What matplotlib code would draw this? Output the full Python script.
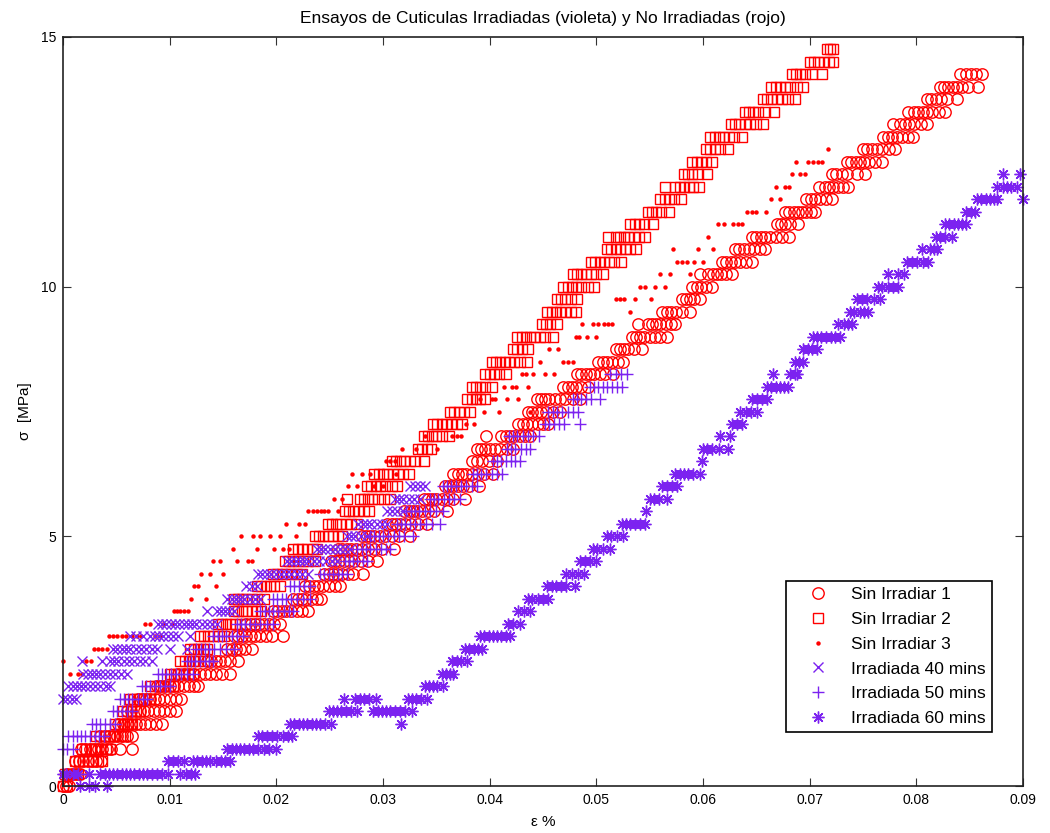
import matplotlib
matplotlib.use("Agg")
import matplotlib.pyplot as plt

plt.rcParams['font.family'] = ['Liberation Sans', 'DejaVu Sans']

# Each series: (stress level in MPa, strains recorded at that level)
sin_irradiar_1 = [
    (0.00, [0.0, 0.0003, 0.0006]),
    (0.25, [0.0004, 0.0008, 0.0012, 0.0016]),
    (0.50, [0.0011, 0.0015, 0.0019, 0.0023, 0.0027, 0.0031, 0.0036]),
    (0.75, [0.0017, 0.0021, 0.0025, 0.0029, 0.0033, 0.0037, 0.0041, 0.0045, 0.0053, 0.0065]),
    (1.00, [0.0035, 0.0039, 0.0043, 0.0047, 0.0051, 0.0055, 0.0060, 0.0065]),
    (1.25, [0.0052, 0.0056, 0.0060, 0.0064, 0.0068, 0.0072, 0.0077, 0.0082, 0.0087, 0.0093]),
    (1.50, [0.0060, 0.0064, 0.0068, 0.0072, 0.0076, 0.0080, 0.0085, 0.0090, 0.0095, 0.0100, 0.0106]),
    (1.75, [0.0070, 0.0074, 0.0078, 0.0082, 0.0086, 0.0090, 0.0095, 0.0100, 0.0106, 0.0111]),
    (2.00, [0.0088, 0.0092, 0.0096, 0.0100, 0.0104, 0.0108, 0.0113, 0.0118, 0.0123, 0.0127]),
    (2.25, [0.0108, 0.0113, 0.0118, 0.0123, 0.0128, 0.0133, 0.0138, 0.0143, 0.0149, 0.0157]),
    (2.50, [0.0135, 0.0139, 0.0143, 0.0147, 0.0152, 0.0157, 0.0164]),
    (2.75, [0.0154, 0.0158, 0.0162, 0.0166, 0.0171, 0.0177]),
    (3.00, [0.0160, 0.0164, 0.0168, 0.0172, 0.0176, 0.0180, 0.0185, 0.0190, 0.0196, 0.0206]),
    (3.25, [0.0172, 0.0176, 0.0180, 0.0184, 0.0188, 0.0193, 0.0198, 0.0203]),
    (3.50, [0.0197, 0.0201, 0.0205, 0.0209, 0.0214, 0.0219, 0.0224, 0.0230]),
    (3.75, [0.0216, 0.0220, 0.0224, 0.0228, 0.0233, 0.0238, 0.0242]),
    (4.00, [0.0227, 0.0231, 0.0235, 0.0239, 0.0244, 0.0249, 0.0255, 0.0260]),
    (4.25, [0.0245, 0.0249, 0.0253, 0.0257, 0.0262, 0.0267, 0.0272, 0.0281]),
    (4.50, [0.0251, 0.0255, 0.0259, 0.0263, 0.0268, 0.0273, 0.0279, 0.0286, 0.0294]),
    (4.75, [0.0258, 0.0262, 0.0266, 0.0270, 0.0275, 0.0280, 0.0286, 0.0292, 0.0299, 0.0310]),
    (5.00, [0.0280, 0.0284, 0.0288, 0.0292, 0.0297, 0.0302, 0.0308, 0.0315, 0.0325]),
    (5.25, [0.0304, 0.0308, 0.0312, 0.0316, 0.0321, 0.0326, 0.0333, 0.0341]),
    (5.50, [0.0320, 0.0324, 0.0328, 0.0332, 0.0337, 0.0342, 0.0348, 0.0360]),
    (5.75, [0.0338, 0.0342, 0.0346, 0.0350, 0.0355, 0.0360, 0.0366, 0.0377]),
    (6.00, [0.0358, 0.0362, 0.0366, 0.0370, 0.0375, 0.0381, 0.0390]),
    (6.25, [0.0366, 0.0370, 0.0374, 0.0378, 0.0383, 0.0389, 0.0395, 0.0403]),
    (6.50, [0.0383, 0.0388, 0.0393, 0.0399, 0.0407]),
    (6.75, [0.0388, 0.0392, 0.0396, 0.0400, 0.0405, 0.0410, 0.0416, 0.0422]),
    (7.00, [0.0397, 0.0411, 0.0415, 0.0419, 0.0423, 0.0428, 0.0433, 0.0438]),
    (7.25, [0.0427, 0.0431, 0.0435, 0.0440, 0.0445, 0.0450, 0.0455]),
    (7.50, [0.0436, 0.0440, 0.0444, 0.0448, 0.0453, 0.0459, 0.0466]),
    (7.75, [0.0444, 0.0448, 0.0452, 0.0456, 0.0461, 0.0466, 0.0471, 0.0478, 0.0485]),
    (8.00, [0.0469, 0.0473, 0.0477, 0.0481, 0.0486, 0.0492]),
    (8.25, [0.0482, 0.0486, 0.0490, 0.0494, 0.0498, 0.0503, 0.0508, 0.0516]),
    (8.50, [0.0502, 0.0506, 0.0510, 0.0515, 0.0520, 0.0525]),
    (8.75, [0.0518, 0.0522, 0.0526, 0.0530, 0.0535, 0.0543]),
    (9.00, [0.0533, 0.0537, 0.0541, 0.0545, 0.0550, 0.0555, 0.0560, 0.0566]),
    (9.25, [0.0539, 0.0548, 0.0552, 0.0556, 0.0560, 0.0565, 0.0570, 0.0574]),
    (9.50, [0.0562, 0.0566, 0.0570, 0.0575, 0.0580, 0.0588]),
    (9.75, [0.0580, 0.0584, 0.0588, 0.0592, 0.0597]),
    (10.00, [0.0590, 0.0594, 0.0598, 0.0603, 0.0608]),
    (10.25, [0.0597, 0.0605, 0.0609, 0.0613, 0.0617, 0.0622, 0.0627]),
    (10.50, [0.0618, 0.0622, 0.0626, 0.0630, 0.0635, 0.0640, 0.0646]),
    (10.75, [0.0630, 0.0634, 0.0638, 0.0643, 0.0648, 0.0653, 0.0658]),
    (11.00, [0.0646, 0.0650, 0.0654, 0.0658, 0.0663, 0.0668, 0.0674, 0.0681]),
    (11.25, [0.0669, 0.0673, 0.0677, 0.0682, 0.0689]),
    (11.50, [0.0677, 0.0681, 0.0685, 0.0689, 0.0693, 0.0697, 0.0701, 0.0705]),
    (11.75, [0.0697, 0.0701, 0.0705, 0.0710, 0.0715, 0.0721]),
    (12.00, [0.0709, 0.0714, 0.0718, 0.0722, 0.0727, 0.0731, 0.0736]),
    (12.25, [0.0721, 0.0725, 0.0730, 0.0735, 0.0744, 0.0752]),
    (12.50, [0.0735, 0.0739, 0.0743, 0.0747, 0.0751, 0.0756, 0.0761, 0.0768]),
    (12.75, [0.0750, 0.0754, 0.0758, 0.0763, 0.0768, 0.0774, 0.0780]),
    (13.00, [0.0769, 0.0773, 0.0777, 0.0782, 0.0787, 0.0792, 0.0797]),
    (13.25, [0.0778, 0.0785, 0.0789, 0.0793, 0.0798, 0.0804, 0.0810]),
    (13.50, [0.0792, 0.0798, 0.0802, 0.0806, 0.0810, 0.0815, 0.0821, 0.0827]),
    (13.75, [0.0810, 0.0814, 0.0818, 0.0823, 0.0829, 0.0838]),
    (14.00, [0.0822, 0.0826, 0.0830, 0.0834, 0.0838, 0.0843, 0.0848, 0.0858]),
    (14.25, [0.0841, 0.0847, 0.0851, 0.0856, 0.0862]),
]

sin_irradiar_2 = [
    (0.00, [0.0, 0.0004]),
    (0.25, [0.0002, 0.0006, 0.0010, 0.0014]),
    (0.50, [0.0011, 0.0015, 0.0019, 0.0023, 0.0028, 0.0033, 0.0037]),
    (0.75, [0.0018, 0.0022, 0.0026, 0.0030, 0.0035, 0.0040, 0.0044]),
    (1.00, [0.0031, 0.0035, 0.0039, 0.0043, 0.0048, 0.0053, 0.0058]),
    (1.25, [0.0049, 0.0053, 0.0057, 0.0061, 0.0065]),
    (1.50, [0.0056, 0.0060, 0.0064, 0.0068, 0.0072]),
    (1.75, [0.0063, 0.0067, 0.0071, 0.0076, 0.0082]),
    (2.00, [0.0082, 0.0086, 0.0090, 0.0094, 0.0098, 0.0103]),
    (2.25, [0.0100, 0.0104, 0.0108, 0.0113, 0.0118, 0.0122]),
    (2.50, [0.0110, 0.0114, 0.0118, 0.0122, 0.0127, 0.0132]),
    (2.75, [0.0119, 0.0123, 0.0127, 0.0131, 0.0135]),
    (3.00, [0.0128, 0.0132, 0.0136, 0.0141, 0.0146, 0.0151]),
    (3.25, [0.0145, 0.0149, 0.0153, 0.0157, 0.0161, 0.0166, 0.0171]),
    (3.50, [0.0160, 0.0164, 0.0168, 0.0172, 0.0177, 0.0182, 0.0186]),
    (3.75, [0.0160, 0.0164, 0.0168, 0.0172, 0.0177, 0.0182, 0.0188]),
    (4.00, [0.0182, 0.0186, 0.0190, 0.0194, 0.0198, 0.0203]),
    (4.25, [0.0197, 0.0201, 0.0205, 0.0209, 0.0214, 0.0219, 0.0224]),
    (4.50, [0.0208, 0.0212, 0.0216, 0.0220, 0.0225, 0.0230, 0.0236]),
    (4.75, [0.0216, 0.0220, 0.0224, 0.0229, 0.0234, 0.0238]),
    (5.00, [0.0236, 0.0240, 0.0244, 0.0248, 0.0253, 0.0258, 0.0262]),
    (5.25, [0.0248, 0.0252, 0.0256, 0.0260, 0.0265, 0.0270, 0.0276]),
    (5.50, [0.0264, 0.0268, 0.0272, 0.0277, 0.0282, 0.0287]),
    (5.75, [0.0266, 0.0278, 0.0282, 0.0286, 0.0290, 0.0295, 0.0301, 0.0307]),
    (6.00, [0.0285, 0.0289, 0.0293, 0.0297, 0.0302, 0.0308, 0.0313]),
    (6.25, [0.0292, 0.0296, 0.0300, 0.0304, 0.0309, 0.0314, 0.0319, 0.0324]),
    (6.50, [0.0308, 0.0312, 0.0316, 0.0320, 0.0325, 0.0330, 0.0338]),
    (6.75, [0.0333, 0.0337, 0.0341, 0.0345]),
    (7.00, [0.0338, 0.0342, 0.0346, 0.0350, 0.0355, 0.0362]),
    (7.25, [0.0347, 0.0351, 0.0355, 0.0359, 0.0364, 0.0369, 0.0374]),
    (7.50, [0.0363, 0.0367, 0.0371, 0.0376, 0.0382]),
    (7.75, [0.0379, 0.0383, 0.0387, 0.0391, 0.0396]),
    (8.00, [0.0383, 0.0387, 0.0391, 0.0396, 0.0402]),
    (8.25, [0.0396, 0.0400, 0.0404, 0.0409, 0.0415]),
    (8.50, [0.0402, 0.0406, 0.0410, 0.0414, 0.0418, 0.0423, 0.0428, 0.0435]),
    (8.75, [0.0422, 0.0426, 0.0430, 0.0436]),
    (9.00, [0.0426, 0.0430, 0.0434, 0.0438, 0.0442, 0.0447, 0.0452, 0.0459]),
    (9.25, [0.0449, 0.0453, 0.0457, 0.0463]),
    (9.50, [0.0454, 0.0458, 0.0462, 0.0466, 0.0471, 0.0476, 0.0481]),
    (9.75, [0.0463, 0.0467, 0.0471, 0.0476, 0.0482]),
    (10.00, [0.0469, 0.0473, 0.0477, 0.0481, 0.0486, 0.0492, 0.0498]),
    (10.25, [0.0478, 0.0482, 0.0486, 0.0490, 0.0495, 0.0500, 0.0506]),
    (10.50, [0.0495, 0.0499, 0.0503, 0.0507, 0.0512, 0.0517, 0.0523]),
    (10.75, [0.0510, 0.0514, 0.0518, 0.0522, 0.0527, 0.0532, 0.0537]),
    (11.00, [0.0511, 0.0518, 0.0522, 0.0526, 0.0530, 0.0535, 0.0540, 0.0546]),
    (11.25, [0.0532, 0.0536, 0.0540, 0.0545, 0.0553]),
    (11.50, [0.0548, 0.0552, 0.0556, 0.0561, 0.0568]),
    (11.75, [0.0560, 0.0564, 0.0568, 0.0573, 0.0579]),
    (12.00, [0.0564, 0.0574, 0.0578, 0.0582, 0.0587, 0.0591, 0.0596]),
    (12.25, [0.0582, 0.0586, 0.0590, 0.0595, 0.0604]),
    (12.50, [0.0590, 0.0594, 0.0598, 0.0603, 0.0608]),
    (12.75, [0.0603, 0.0607, 0.0611, 0.0616, 0.0623]),
    (13.00, [0.0607, 0.0611, 0.0615, 0.0619, 0.0624, 0.0629, 0.0637]),
    (13.25, [0.0626, 0.0630, 0.0634, 0.0639, 0.0644, 0.0650, 0.0656]),
    (13.50, [0.0639, 0.0643, 0.0647, 0.0652, 0.0658, 0.0667]),
    (13.75, [0.0656, 0.0660, 0.0664, 0.0669, 0.0674, 0.0680, 0.0686]),
    (14.00, [0.0664, 0.0668, 0.0672, 0.0677, 0.0682, 0.0688, 0.0694]),
    (14.25, [0.0683, 0.0687, 0.0691, 0.0696, 0.0702, 0.0712]),
    (14.50, [0.0700, 0.0704, 0.0708, 0.0713, 0.0718, 0.0722]),
    (14.75, [0.0716, 0.0719, 0.0722]),
]

sin_irradiar_3 = [
    (2.25, [0.0007, 0.0014, 0.0018]),
    (2.50, [0.0, 0.0022, 0.0026]),
    (2.75, [0.0029, 0.0033, 0.0037, 0.0041]),
    (3.00, [0.0043, 0.0047, 0.0051, 0.0055, 0.0059, 0.0065, 0.0069, 0.0073, 0.0086, 0.0091]),
    (3.25, [0.0077, 0.0082, 0.0094, 0.0102]),
    (3.50, [0.0104, 0.0107, 0.0110, 0.0113, 0.0117]),
    (3.75, [0.0120, 0.0134]),
    (4.00, [0.0123, 0.0127, 0.0143]),
    (4.25, [0.0129, 0.0138, 0.0150]),
    (4.50, [0.0141, 0.0147, 0.0163, 0.0173, 0.0177]),
    (4.75, [0.0159, 0.0182, 0.0198, 0.0206, 0.0212]),
    (5.00, [0.0167, 0.0178, 0.0185, 0.0194, 0.0203, 0.0218]),
    (5.25, [0.0209, 0.0221, 0.0227]),
    (5.50, [0.0230, 0.0234, 0.0238, 0.0242, 0.0245, 0.0248, 0.0258]),
    (5.75, [0.0254, 0.0262]),
    (6.00, [0.0267, 0.0276, 0.0292, 0.0300]),
    (6.25, [0.0271, 0.0280, 0.0288, 0.0312]),
    (6.50, [0.0303, 0.0307, 0.0311]),
    (6.75, [0.0318, 0.0331, 0.0351]),
    (7.00, [0.0339, 0.0365, 0.0369, 0.0373]),
    (7.25, [0.0378, 0.0385]),
    (7.50, [0.0395, 0.0409, 0.0438]),
    (7.75, [0.0391, 0.0402, 0.0405, 0.0416, 0.0427]),
    (8.00, [0.0413, 0.0421, 0.0425, 0.0436]),
    (8.25, [0.0430, 0.0434, 0.0441, 0.0452, 0.0460]),
    (8.50, [0.0447, 0.0469, 0.0473, 0.0478]),
    (8.75, [0.0456, 0.0464]),
    (9.00, [0.0481, 0.0484, 0.0491, 0.0500]),
    (9.25, [0.0487, 0.0497, 0.0502, 0.0507, 0.0511, 0.0515]),
    (9.50, [0.0532]),
    (9.75, [0.0518, 0.0522, 0.0526, 0.0536, 0.0551]),
    (10.00, [0.0541, 0.0546, 0.0555, 0.0564]),
    (10.25, [0.0560, 0.0569, 0.0588]),
    (10.50, [0.0576, 0.0580, 0.0585, 0.0592, 0.0600]),
    (10.75, [0.0572, 0.0595, 0.0609]),
    (11.00, [0.0605]),
    (11.25, [0.0614, 0.0620, 0.0628, 0.0633, 0.0637]),
    (11.50, [0.0641, 0.0646, 0.0650, 0.0659]),
    (11.75, [0.0664, 0.0672]),
    (12.00, [0.0668, 0.0677, 0.0681]),
    (12.25, [0.0683, 0.0691, 0.0696]),
    (12.50, [0.0687, 0.0698, 0.0703, 0.0708, 0.0712]),
    (12.75, [0.0717]),
]

irradiada_40 = [
    (1.75, [0.0, 0.0004, 0.0008, 0.0012]),
    (2.00, [0.0005, 0.0009, 0.0013, 0.0017, 0.0021, 0.0025, 0.0030, 0.0035, 0.0040, 0.0044]),
    (2.25, [0.0019, 0.0023, 0.0027, 0.0031, 0.0035, 0.0039, 0.0044, 0.0049, 0.0054, 0.0060]),
    (2.50, [0.0018, 0.0037, 0.0044, 0.0048, 0.0052, 0.0057, 0.0062, 0.0067, 0.0072, 0.0077, 0.0083]),
    (2.75, [0.0047, 0.0051, 0.0055, 0.0059, 0.0063, 0.0068, 0.0073, 0.0078, 0.0083, 0.0088, 0.0100, 0.0116]),
    (3.00, [0.0063, 0.0068, 0.0075, 0.0082, 0.0086, 0.0090, 0.0094, 0.0098, 0.0103, 0.0108, 0.0119]),
    (3.25, [0.0089, 0.0093, 0.0097, 0.0101, 0.0105, 0.0109, 0.0113, 0.0117, 0.0121, 0.0125, 0.0130,
            0.0135, 0.0140, 0.0144]),
    (3.50, [0.0135, 0.0144, 0.0148, 0.0152, 0.0156, 0.0160]),
    (3.75, [0.0154, 0.0158, 0.0162, 0.0166, 0.0170, 0.0175, 0.0180, 0.0185]),
    (4.00, [0.0172, 0.0177, 0.0182]),
    (4.25, [0.0183, 0.0187, 0.0191, 0.0195, 0.0200, 0.0204, 0.0209, 0.0214, 0.0219, 0.0224, 0.0230]),
    (4.50, [0.0210, 0.0214, 0.0218, 0.0222, 0.0226, 0.0230, 0.0235, 0.0240, 0.0247, 0.0252, 0.0257]),
    (4.75, [0.0238, 0.0242, 0.0246, 0.0250, 0.0255, 0.0260, 0.0264, 0.0269]),
    (5.00, [0.0266, 0.0270, 0.0274, 0.0279, 0.0285]),
    (5.25, [0.0277, 0.0281, 0.0285, 0.0289, 0.0294, 0.0299, 0.0304]),
    (5.50, [0.0304, 0.0308, 0.0313, 0.0319]),
    (5.75, [0.0311, 0.0315, 0.0319, 0.0324, 0.0329, 0.0335]),
    (6.00, [0.0325, 0.0330, 0.0335, 0.0339]),
]

irradiada_50 = [
    (0.75, [0.0, 0.0004, 0.0009]),
    (1.00, [0.0005, 0.0009, 0.0013, 0.0017, 0.0021, 0.0025, 0.0030, 0.0034, 0.0038]),
    (1.25, [0.0027, 0.0031, 0.0035, 0.0039, 0.0044, 0.0049]),
    (1.50, [0.0047, 0.0051, 0.0055, 0.0060, 0.0065]),
    (1.75, [0.0053, 0.0057, 0.0061, 0.0065, 0.0070, 0.0075, 0.0079]),
    (2.00, [0.0074, 0.0078, 0.0082, 0.0086, 0.0091, 0.0096, 0.0100]),
    (2.25, [0.0089, 0.0093, 0.0097, 0.0101, 0.0106, 0.0111, 0.0116, 0.0122]),
    (2.50, [0.0116, 0.0120, 0.0124, 0.0128, 0.0133, 0.0137, 0.0141]),
    (2.75, [0.0125, 0.0129, 0.0133, 0.0137, 0.0142, 0.0147, 0.0153, 0.0160]),
    (3.00, [0.0141, 0.0145, 0.0149, 0.0153, 0.0158, 0.0163, 0.0169]),
    (3.25, [0.0163, 0.0167, 0.0171, 0.0175, 0.0180, 0.0185, 0.0191, 0.0197]),
    (3.50, [0.0185, 0.0189, 0.0193, 0.0197, 0.0202, 0.0207, 0.0212, 0.0216]),
    (3.75, [0.0197, 0.0201, 0.0205, 0.0209, 0.0214, 0.0219, 0.0225, 0.0232]),
    (4.00, [0.0213, 0.0217, 0.0221, 0.0226, 0.0232]),
    (4.25, [0.0241, 0.0245, 0.0249, 0.0253, 0.0258, 0.0262, 0.0266]),
    (4.50, [0.0264, 0.0268, 0.0272, 0.0276, 0.0281, 0.0285]),
    (4.75, [0.0276, 0.0280, 0.0284, 0.0288, 0.0293, 0.0298, 0.0303, 0.0307]),
    (5.00, [0.0288, 0.0292, 0.0296, 0.0300, 0.0305, 0.0310, 0.0315, 0.0320, 0.0328]),
    (5.25, [0.0313, 0.0317, 0.0321, 0.0325, 0.0330, 0.0335, 0.0340, 0.0346, 0.0353]),
    (5.50, [0.0322, 0.0326, 0.0330, 0.0334, 0.0339, 0.0344, 0.0350, 0.0356]),
    (5.75, [0.0344, 0.0348, 0.0352, 0.0357, 0.0362, 0.0367, 0.0372]),
    (6.00, [0.0356, 0.0360, 0.0364, 0.0368, 0.0373, 0.0378, 0.0383, 0.0388]),
    (6.25, [0.0384, 0.0388, 0.0392, 0.0397, 0.0402, 0.0407, 0.0412]),
    (6.50, [0.0403, 0.0407, 0.0411, 0.0415, 0.0420, 0.0424, 0.0428]),
    (6.75, [0.0416, 0.0420, 0.0424, 0.0429, 0.0434, 0.0438]),
    (7.00, [0.0418, 0.0422, 0.0426, 0.0431, 0.0436, 0.0441, 0.0446]),
    (7.25, [0.0452, 0.0456, 0.0460, 0.0465, 0.0470, 0.0485]),
    (7.50, [0.0455, 0.0459, 0.0463, 0.0468, 0.0473, 0.0478, 0.0483]),
    (7.75, [0.0478, 0.0482, 0.0486, 0.0490, 0.0495, 0.0503]),
    (8.00, [0.0494, 0.0498, 0.0502, 0.0506, 0.0510, 0.0515, 0.0519, 0.0524]),
    (8.25, [0.0513, 0.0518, 0.0523, 0.0529]),
]

irradiada_60 = [
    (0.00, [0.0016, 0.0024, 0.0030, 0.0041]),
    (0.25, [0.0, 0.0003, 0.0009, 0.0014, 0.0024, 0.0035, 0.0039, 0.0043, 0.0047, 0.0051, 0.0055,
            0.0059, 0.0063, 0.0067, 0.0071, 0.0075, 0.0079, 0.0083, 0.0088, 0.0093, 0.0098,
            0.0110, 0.0115, 0.0120, 0.0124]),
    (0.50, [0.0098, 0.0103, 0.0108, 0.0113, 0.0122, 0.0126, 0.0130, 0.0134, 0.0138, 0.0143,
            0.0148, 0.0152, 0.0157]),
    (0.75, [0.0154, 0.0158, 0.0162, 0.0166, 0.0170, 0.0174, 0.0178, 0.0183, 0.0188, 0.0193, 0.0200]),
    (1.00, [0.0183, 0.0187, 0.0191, 0.0196, 0.0201, 0.0206, 0.0211, 0.0215]),
    (1.25, [0.0213, 0.0217, 0.0221, 0.0225, 0.0229, 0.0233, 0.0237, 0.0241, 0.0246, 0.0251, 0.0317]),
    (1.50, [0.0249, 0.0253, 0.0257, 0.0261, 0.0265, 0.0270, 0.0276, 0.0291, 0.0295, 0.0299,
            0.0303, 0.0307, 0.0311, 0.0316, 0.0321, 0.0327]),
    (1.75, [0.0263, 0.0274, 0.0278, 0.0282, 0.0287, 0.0293, 0.0323, 0.0327, 0.0331, 0.0336, 0.0341]),
    (2.00, [0.0339, 0.0343, 0.0347, 0.0351, 0.0356]),
    (2.25, [0.0355, 0.0359, 0.0363, 0.0366]),
    (2.50, [0.0365, 0.0369, 0.0373, 0.0379]),
    (2.75, [0.0377, 0.0381, 0.0385, 0.0389, 0.0393]),
    (3.00, [0.0391, 0.0395, 0.0399, 0.0403, 0.0407, 0.0411, 0.0415, 0.0419]),
    (3.25, [0.0417, 0.0422, 0.0428]),
    (3.50, [0.0427, 0.0432, 0.0438]),
    (3.75, [0.0436, 0.0440, 0.0445, 0.0450, 0.0455]),
    (4.00, [0.0454, 0.0458, 0.0462, 0.0467, 0.0472, 0.0480]),
    (4.25, [0.0472, 0.0477, 0.0483, 0.0488]),
    (4.50, [0.0485, 0.0489, 0.0494, 0.0500]),
    (4.75, [0.0497, 0.0501, 0.0506, 0.0513]),
    (5.00, [0.0510, 0.0514, 0.0519, 0.0525]),
    (5.25, [0.0524, 0.0528, 0.0532, 0.0536, 0.0541, 0.0546]),
    (5.50, [0.0547]),
    (5.75, [0.0550, 0.0554, 0.0559, 0.0566]),
    (6.00, [0.0562, 0.0566, 0.0571, 0.0576]),
    (6.25, [0.0574, 0.0578, 0.0582, 0.0586, 0.0591, 0.0597]),
    (6.50, [0.0599]),
    (6.75, [0.0600, 0.0604, 0.0608, 0.0615, 0.0623]),
    (7.00, [0.0616, 0.0625]),
    (7.25, [0.0627, 0.0632, 0.0637]),
    (7.50, [0.0635, 0.0640, 0.0645, 0.0651]),
    (7.75, [0.0646, 0.0651, 0.0655, 0.0660]),
    (8.00, [0.0660, 0.0664, 0.0668, 0.0672, 0.0676, 0.0680]),
    (8.25, [0.0666, 0.0682, 0.0686, 0.0688]),
    (8.50, [0.0686, 0.0690, 0.0694]),
    (8.75, [0.0694, 0.0698, 0.0702, 0.0707]),
    (9.00, [0.0703, 0.0707, 0.0711, 0.0715, 0.0720, 0.0724, 0.0728]),
    (9.25, [0.0727, 0.0732, 0.0736, 0.0740]),
    (9.50, [0.0738, 0.0742, 0.0747, 0.0751, 0.0755]),
    (9.75, [0.0744, 0.0749, 0.0754, 0.0760, 0.0766]),
    (10.00, [0.0764, 0.0768, 0.0773, 0.0778, 0.0783]),
    (10.25, [0.0773, 0.0783, 0.0788]),
    (10.50, [0.0791, 0.0796, 0.0801, 0.0806, 0.0811]),
    (10.75, [0.0805, 0.0813, 0.0817, 0.0819]),
    (11.00, [0.0818, 0.0822, 0.0827, 0.0833]),
    (11.25, [0.0827, 0.0831, 0.0835, 0.0839, 0.0843, 0.0847]),
    (11.50, [0.0847, 0.0851, 0.0855]),
    (11.75, [0.0857, 0.0861, 0.0865, 0.0869, 0.0873, 0.0876, 0.0900]),
    (12.00, [0.0876, 0.0881, 0.0885, 0.0889, 0.0894]),
    (12.25, [0.0881, 0.0897]),
]

labels = ["Sin Irradiar 1", "Sin Irradiar 2", "Sin Irradiar 3",
          "Irradiada 40 mins", "Irradiada 50 mins", "Irradiada 60 mins"]
x_ticks = [0, 0.01, 0.02, 0.03, 0.04, 0.05, 0.06, 0.07, 0.08, 0.09]
x_tick_labels = ["0", "0.01", "0.02", "0.03", "0.04", "0.05", "0.06", "0.07", "0.08", "0.09"]
y_ticks = [0, 5, 10, 15]

RED = "#ff0000"
VIOLET = "#7c22f0"
ASTERISK = (8, 2, 0)

styles = [
    dict(marker="o", ms=8.2, mfc="none", mec=RED, mew=1.0),
    dict(marker="s", ms=6.8, mfc="none", mec=RED, mew=1.0),
    dict(marker="o", ms=3.2, mfc=RED, mec=RED, mew=0.0),
    dict(marker="x", ms=6.5, mfc="none", mec=VIOLET, mew=1.0),
    dict(marker="+", ms=8.5, mfc="none", mec=VIOLET, mew=1.0),
    dict(marker=ASTERISK, ms=8.5, mfc="none", mec=VIOLET, mew=1.0),
]


def flatten(series):
    xs, ys = [], []
    for stress, strains in series:
        for e in strains:
            xs.append(e)
            ys.append(stress)
    return xs, ys


fig = plt.figure(figsize=(10.5, 8.33), dpi=100)
ax = fig.add_axes([63 / 1050, 47 / 833, 960 / 1050, 749 / 833])

all_series = [sin_irradiar_1, sin_irradiar_2, sin_irradiar_3,
              irradiada_40, irradiada_50, irradiada_60]
for series, label, st in zip(all_series, labels, styles):
    xs, ys = flatten(series)
    ax.plot(xs, ys, linestyle="none", label=label, clip_on=False, **st)

ax.set_xlim(0, 0.09)
ax.set_ylim(0, 15)
ax.set_xticks(x_ticks)
ax.set_xticklabels(x_tick_labels)
ax.set_yticks(y_ticks)
ax.tick_params(direction="in", length=6, width=0.8, top=True, right=True,
               labelsize=10, color="#333333", pad=5)
for sp in ax.spines.values():
    sp.set_linewidth(1.2)
    sp.set_color("#222222")

ax.set_title("Ensayos de Cuticulas Irradiadas (violeta) y No Irradiadas (rojo)",
             fontsize=12.5, pad=10)
ax.set_xlabel("ε %", fontsize=11, labelpad=6)
ax.set_ylabel("σ  [MPa]", fontsize=11, labelpad=6)

leg = ax.legend(loc="lower right", bbox_to_anchor=(992 / 1050, 101 / 833),
                bbox_transform=fig.transFigure, borderaxespad=0,
                fontsize=12.5, frameon=True, fancybox=False, framealpha=1,
                edgecolor="black", handlelength=3.0, handletextpad=0.4,
                borderpad=0.35, labelspacing=0.55, numpoints=1)
leg.get_frame().set_linewidth(1.2)

fig.savefig("out.png", dpi=100)
